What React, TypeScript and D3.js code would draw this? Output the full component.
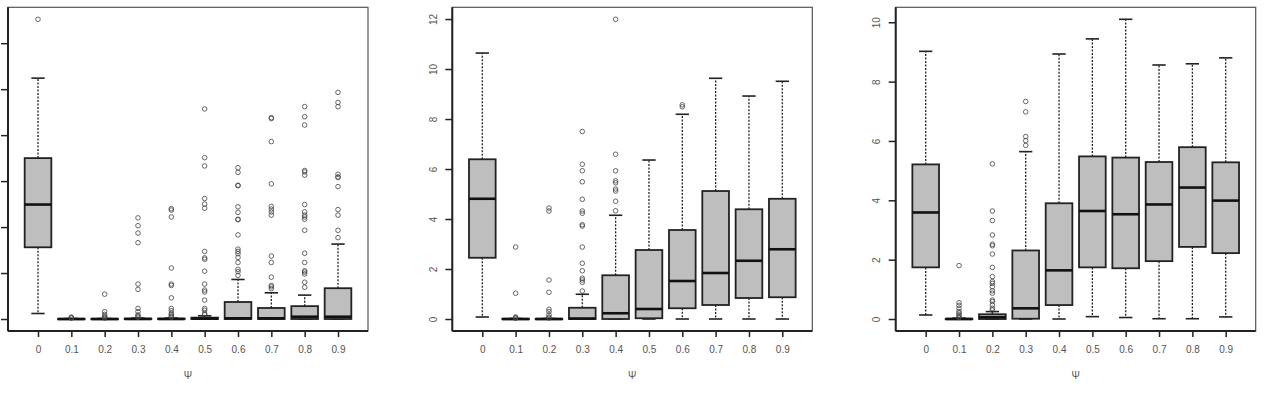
import React, { useEffect, useRef } from 'react';
import * as d3 from 'd3';

interface IBoxStat {
  lo: number;
  q1: number;
  med: number;
  q3: number;
  hi: number;
  out: number[];
}

const categories = ['0', '0.1', '0.2', '0.3', '0.4', '0.5', '0.6', '0.7', '0.8', '0.9'];

// left panel: its tick labels fall outside the page, so none are drawn
const panel1Ticks = [0, 1, 2, 3, 4, 5, 6];
const panel1: IBoxStat[] = [
  { lo: 0.12, q1: 1.56, med: 2.49, q3: 3.5, hi: 5.24, out: [6.52] },
  { lo: 0, q1: 0, med: 0, q3: 0.005, hi: 0.01, out: [0.02, 0.03, 0.04] },
  { lo: 0, q1: 0, med: 0, q3: 0.005, hi: 0.01, out: [0.54, 0.16, 0.1, 0.06, 0.04, 0.02] },
  { lo: 0, q1: 0, med: 0, q3: 0.01, hi: 0.02, out: [2.2, 2.03, 1.87, 1.66, 0.76, 0.645, 0.23, 0.16, 0.09, 0.06, 0.04] },
  { lo: 0, q1: 0, med: 0, q3: 0.01, hi: 0.02, out: [2.4, 2.37, 2.22, 1.11, 0.76, 0.73, 0.46, 0.23, 0.18, 0.12, 0.09, 0.06, 0.04] },
  { lo: 0, q1: 0, med: 0.01, q3: 0.03, hi: 0.07, out: [4.57, 3.51, 3.33, 2.62, 2.5, 2.41, 1.47, 1.33, 1.3, 1.04, 0.76, 0.63, 0.59, 0.41, 0.23, 0.19, 0.12, 0.09] },
  { lo: 0, q1: 0, med: 0.015, q3: 0.37, hi: 0.86, out: [3.29, 3.19, 2.91, 2.9, 2.44, 2.32, 2.17, 2.16, 1.83, 1.52, 1.47, 1.42, 1.34, 1.23, 1.08, 1.03, 0.95] },
  { lo: 0, q1: 0, med: 0.015, q3: 0.24, hi: 0.57, out: [4.38, 4.36, 3.86, 2.94, 2.45, 2.39, 2.33, 2.26, 1.37, 1.23, 0.91, 0.73, 0.7, 0.66] },
  { lo: 0, q1: 0, med: 0.05, q3: 0.28, hi: 0.52, out: [4.62, 4.4, 4.22, 3.23, 3.2, 3.13, 2.49, 2.33, 2.26, 2.22, 2.17, 1.93, 1.43, 1.23, 1.05, 1.02, 0.98, 0.8, 0.69] },
  { lo: 0, q1: 0, med: 0.05, q3: 0.67, hi: 1.63, out: [4.93, 4.71, 4.62, 3.15, 3.09, 3.08, 2.88, 2.38, 2.26, 1.93, 1.77] },
];

const panel2Ticks = [0, 2, 4, 6, 8, 10, 12];
const panel2: IBoxStat[] = [
  { lo: 0.08, q1: 2.45, med: 4.81, q3: 6.39, hi: 10.64, out: [] },
  { lo: 0, q1: 0, med: 0, q3: 0.01, hi: 0.02, out: [2.88, 1.03, 0.08, 0.05, 0.03] },
  { lo: 0, q1: 0, med: 0, q3: 0.01, hi: 0.02, out: [4.44, 4.32, 1.56, 1.07, 0.39, 0.3, 0.17, 0.08, 0.04] },
  { lo: 0, q1: 0, med: 0.02, q3: 0.45, hi: 0.99, out: [7.5, 6.19, 5.93, 5.49, 4.79, 4.32, 4.23, 3.77, 3.72, 2.88, 2.23, 1.93, 1.63, 1.56, 1.47, 1.12] },
  { lo: 0, q1: 0, med: 0.23, q3: 1.75, hi: 4.15, out: [11.99, 6.59, 5.93, 5.53, 5.45, 5.2, 5.12, 4.71, 4.33] },
  { lo: 0, q1: 0.03, med: 0.4, q3: 2.76, hi: 6.36, out: [] },
  { lo: 0, q1: 0.43, med: 1.52, q3: 3.56, hi: 8.19, out: [8.57, 8.49] },
  { lo: 0, q1: 0.56, med: 1.84, q3: 5.12, hi: 9.63, out: [] },
  { lo: 0, q1: 0.84, med: 2.33, q3: 4.39, hi: 8.92, out: [] },
  { lo: 0, q1: 0.87, med: 2.79, q3: 4.81, hi: 9.51, out: [] },
];

const panel3Ticks = [0, 2, 4, 6, 8, 10];
const panel3: IBoxStat[] = [
  { lo: 0.135, q1: 1.74, med: 3.59, q3: 5.21, hi: 9.02, out: [] },
  { lo: 0, q1: 0, med: 0, q3: 0.01, hi: 0.03, out: [1.8, 0.55, 0.46, 0.36, 0.25, 0.2, 0.14, 0.08, 0.05] },
  { lo: 0, q1: 0, med: 0.06, q3: 0.16, hi: 0.25, out: [5.23, 3.64, 3.32, 2.83, 2.52, 2.47, 2.19, 1.74, 1.43, 1.26, 1.2, 1.09, 0.95, 0.87, 0.64, 0.59, 0.47, 0.36, 0.3] },
  { lo: 0, q1: 0.01, med: 0.36, q3: 2.31, hi: 5.64, out: [7.33, 6.98, 6.15, 6.01, 5.85] },
  { lo: 0, q1: 0.47, med: 1.64, q3: 3.9, hi: 8.93, out: [] },
  { lo: 0.08, q1: 1.74, med: 3.64, q3: 5.48, hi: 9.44, out: [] },
  { lo: 0.05, q1: 1.71, med: 3.53, q3: 5.44, hi: 10.1, out: [] },
  { lo: 0.01, q1: 1.95, med: 3.86, q3: 5.29, hi: 8.56, out: [] },
  { lo: 0.01, q1: 2.43, med: 4.43, q3: 5.79, hi: 8.6, out: [] },
  { lo: 0.07, q1: 2.22, med: 3.99, q3: 5.28, hi: 8.8, out: [] },
];

const panels = [
  { left: 8, stats: panel1, ticks: panel1Ticks, labels: false },
  { left: 452.3, stats: panel2, ticks: panel2Ticks, labels: true },
  { left: 895.7, stats: panel3, ticks: panel3Ticks, labels: true },
];

const App: React.FC = () => {
  const containerRef = useRef<HTMLDivElement>(null);

  useEffect(() => {
    if (containerRef && containerRef.current) {
      containerRef.current.innerHTML = '';
      drawChart(containerRef.current);
    }
  }, [containerRef]);

  return <div ref={containerRef} style={{ position: 'absolute', left: 0, top: 0 }}></div>;
};

const drawChart = (container: HTMLDivElement) => {
  const plotW = 360;
  const top = 7.3;
  const bottom = 331;

  const svg = d3
    .select(container)
    .append('svg')
    .attr('width', 1264)
    .attr('height', 409)
    .style('display', 'block')
    .style('background', '#fff')
    .style('font-family', '"Liberation Sans", Arial, sans-serif');

  panels.forEach(({ left, stats, ticks, labels }) => {
    const g = svg.append('g');

    const all = stats.flatMap((s) => [s.lo, s.hi, ...s.out]);
    const lo = d3.min(all) || 0;
    const hi = d3.max(all) || 1;
    const pad = (hi - lo) * 0.04;
    const yScale = d3.scaleLinear().domain([lo - pad, hi + pad]).range([bottom, top]);
    const xScale = d3.scaleLinear().domain([0.1, 10.9]).range([left, left + plotW]);

    // frame (top/right lighter)
    g.append('rect')
      .attr('x', left)
      .attr('y', top)
      .attr('width', plotW)
      .attr('height', bottom - top)
      .attr('fill', 'none')
      .attr('stroke', '#555')
      .attr('stroke-width', 1.2);

    // y axis
    const yAxisG = g.append('g').attr('transform', `translate(${left},0)`);
    yAxisG.call(
      d3
        .axisLeft(yScale)
        .tickValues(ticks)
        .tickSize(7)
        .tickFormat((d) => (labels ? d3.format('d')(d as number) : ''))
    );
    yAxisG.select('.domain').remove();
    yAxisG
      .append('line')
      .attr('x1', 0)
      .attr('x2', 0)
      .attr('y1', top)
      .attr('y2', bottom)
      .attr('stroke', '#222')
      .attr('stroke-width', 2);
    yAxisG.selectAll('.tick line').attr('stroke', '#222').attr('stroke-width', 1.5);
    if (labels) {
      yAxisG
        .selectAll<SVGTextElement, number>('.tick text')
        .attr('x', null)
        .attr('dy', null)
        .attr('fill', '#555')
        .style('font-size', '10px')
        .style('text-anchor', 'middle')
        .attr('dominant-baseline', 'central')
        .attr('transform', 'translate(-19,0) rotate(-90)');
    } else {
      yAxisG.selectAll('.tick text').remove();
    }

    // x axis
    const xAxisG = g.append('g').attr('transform', `translate(0,${bottom})`);
    xAxisG.call(
      d3
        .axisBottom(xScale)
        .tickValues(d3.range(1, categories.length + 1))
        .tickSize(6)
        .tickFormat((d) => categories[(d as number) - 1])
    );
    xAxisG.select('.domain').remove();
    xAxisG
      .append('line')
      .attr('x1', left)
      .attr('x2', left + plotW)
      .attr('y1', 0)
      .attr('y2', 0)
      .attr('stroke', '#222')
      .attr('stroke-width', 2);
    xAxisG.selectAll('.tick line').attr('stroke', '#222').attr('stroke-width', 1.5);
    xAxisG
      .selectAll('.tick text')
      .attr('y', 15)
      .attr('dy', '0.71em')
      .attr('fill', '#555')
      .style('font-size', '10px');

    g.append('text')
      .attr('x', left + plotW / 2)
      .attr('y', 379)
      .attr('text-anchor', 'middle')
      .attr('fill', '#555')
      .style('font-size', '10px')
      .text('Ψ');

    const boxW = (xScale(1.4) - xScale(1)) * 2;

    const boxes = g
      .selectAll('.box')
      .data(stats)
      .enter()
      .append('g')
      .attr('class', 'box')
      .attr('transform', (_, i) => `translate(${xScale(i + 1)},0)`);

    // whiskers
    boxes
      .append('line')
      .attr('y1', (d) => yScale(d.q3))
      .attr('y2', (d) => yScale(d.hi))
      .attr('stroke', '#222')
      .attr('stroke-width', 1.3)
      .attr('stroke-dasharray', '2,1.5');
    boxes
      .append('line')
      .attr('y1', (d) => yScale(d.q1))
      .attr('y2', (d) => yScale(d.lo))
      .attr('stroke', '#222')
      .attr('stroke-width', 1.3)
      .attr('stroke-dasharray', '2,1.5');

    // caps
    ['hi', 'lo'].forEach((k) => {
      boxes
        .append('line')
        .attr('x1', -boxW / 4)
        .attr('x2', boxW / 4)
        .attr('y1', (d) => yScale(d[k as 'hi' | 'lo']))
        .attr('y2', (d) => yScale(d[k as 'hi' | 'lo']))
        .attr('stroke', '#222')
        .attr('stroke-width', 1.6);
    });

    boxes
      .append('rect')
      .attr('x', -boxW / 2)
      .attr('width', boxW)
      .attr('y', (d) => yScale(d.q3))
      .attr('height', (d) => Math.max(0.5, yScale(d.q1) - yScale(d.q3)))
      .attr('fill', '#bebebe')
      .attr('stroke', '#222')
      .attr('stroke-width', 1.8);

    boxes
      .append('line')
      .attr('x1', -boxW / 2)
      .attr('x2', boxW / 2)
      .attr('y1', (d) => yScale(d.med))
      .attr('y2', (d) => yScale(d.med))
      .attr('stroke', '#111')
      .attr('stroke-width', 2.6);

    boxes
      .selectAll('circle')
      .data((d) => d.out)
      .enter()
      .append('circle')
      .attr('cx', 0)
      .attr('cy', (d) => yScale(d))
      .attr('r', 2.3)
      .attr('fill', 'none')
      .attr('stroke', '#444')
      .attr('stroke-width', 0.8);
  });
};

export default App;
